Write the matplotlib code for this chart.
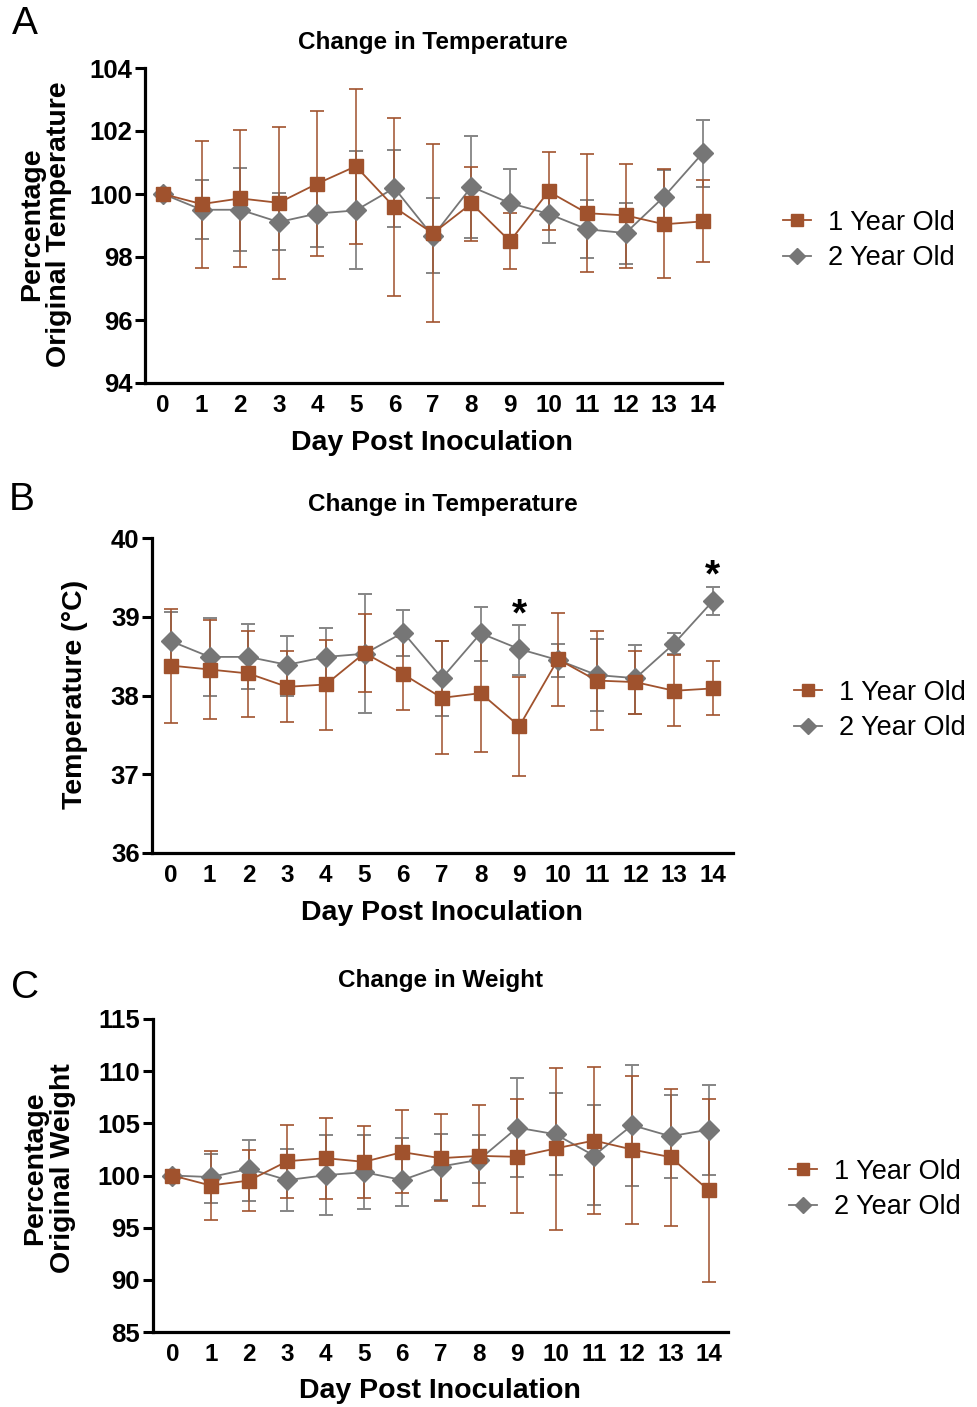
import matplotlib
matplotlib.use('Agg')
import matplotlib.pyplot as plt

plt.rcParams['font.family'] = ['Liberation Sans', 'DejaVu Sans']

# days on the x axis
days = list(range(15))
day_labels = [str(d) for d in days]

# --- panel A: percentage of original temperature ---
a_old1 = [100.0, 99.68, 99.86, 99.72, 100.33, 100.88, 99.58, 98.75, 99.70, 98.50, 100.08, 99.39, 99.32, 99.04, 99.13]
a_old1_hi = [100.05, 101.67, 102.03, 102.14, 102.63, 103.34, 102.42, 101.58, 100.85, 99.39, 101.33, 101.27, 100.95, 100.78, 100.44]
a_old1_lo = [99.95, 97.64, 97.69, 97.30, 98.02, 98.42, 96.75, 95.94, 98.50, 97.61, 98.86, 97.52, 97.66, 97.32, 97.84]
a_old2 = [100.0, 99.50, 99.50, 99.11, 99.38, 99.48, 100.19, 98.66, 100.23, 99.71, 99.37, 98.88, 98.76, 99.92, 101.30]
a_old2_hi = [100.18, 100.43, 100.83, 100.02, 100.35, 101.38, 101.40, 99.87, 101.84, 100.78, 100.27, 99.80, 99.72, 100.77, 102.36]
a_old2_lo = [99.85, 98.58, 98.20, 98.21, 98.33, 97.61, 98.96, 97.50, 98.61, 98.63, 98.44, 97.97, 97.79, 99.07, 100.23]

# --- panel B: temperature in C ---
b_old1 = [38.38, 38.33, 38.28, 38.11, 38.14, 38.54, 38.27, 37.97, 38.03, 37.61, 38.46, 38.19, 38.17, 38.06, 38.09]
b_old1_hi = [39.10, 38.96, 38.82, 38.57, 38.71, 39.04, 38.74, 38.69, 38.77, 38.24, 39.05, 38.82, 38.56, 38.52, 38.44]
b_old1_lo = [37.65, 37.70, 37.73, 37.66, 37.56, 38.05, 37.81, 37.26, 37.28, 36.98, 37.87, 37.56, 37.76, 37.61, 37.75]
b_old2 = [38.69, 38.49, 38.49, 38.39, 38.49, 38.53, 38.80, 38.22, 38.79, 38.59, 38.45, 38.26, 38.22, 38.66, 39.20]
b_old2_hi = [39.06, 38.99, 38.91, 38.76, 38.86, 39.29, 39.09, 38.69, 39.12, 38.89, 38.65, 38.72, 38.64, 38.80, 39.38]
b_old2_lo = [38.31, 38.00, 38.08, 38.00, 38.11, 37.78, 38.50, 37.74, 38.44, 38.26, 38.24, 37.80, 37.77, 38.53, 39.02]
star_days = [9, 14]

# --- panel C: percentage of original weight ---
c_old1 = [100.0, 99.04, 99.52, 101.37, 101.66, 101.31, 102.24, 101.66, 101.88, 101.79, 102.59, 103.35, 102.49, 101.76, 98.57]
c_old1_hi = [100.2, 102.36, 102.42, 104.88, 105.55, 104.79, 106.25, 105.93, 106.76, 107.33, 110.33, 110.39, 109.53, 108.29, 107.36]
c_old1_lo = [99.8, 95.77, 96.56, 97.80, 97.77, 97.80, 98.34, 97.51, 97.04, 96.37, 94.81, 96.34, 95.38, 95.19, 89.84]
c_old2 = [100.0, 99.85, 100.64, 99.56, 100.03, 100.32, 99.56, 100.86, 101.50, 104.59, 103.95, 101.91, 104.82, 103.76, 104.40]
c_old2_hi = [100.5, 102.05, 103.44, 102.55, 103.89, 103.86, 103.60, 104.00, 103.92, 109.31, 107.91, 106.76, 110.61, 107.75, 108.70]
c_old2_lo = [99.5, 97.39, 97.51, 96.63, 96.17, 96.79, 97.04, 97.68, 99.24, 99.81, 100.06, 97.13, 98.98, 99.78, 100.06]

BROWN = '#A0522D'
GRAY = '#767676'
W, H = 977, 1407

fig = plt.figure(figsize=(W / 100, H / 100), dpi=100)


def px_rect(left, top, right, bottom):
    # converts pixel box to figure fractions
    return [left / W, 1 - bottom / H, (right - left) / W, (bottom - top) / H]


def draw_panel(rect, xlim, ylim, yticks, s1, s1hi, s1lo, s2, s2hi, s2lo):
    ax = fig.add_axes(rect)
    err1 = [[m - l for m, l in zip(s1, s1lo)], [h - m for m, h in zip(s1, s1hi)]]
    err2 = [[m - l for m, l in zip(s2, s2lo)], [h - m for m, h in zip(s2, s2hi)]]
    # error bars first, then the lines and markers on top
    ax.errorbar(days, s2, yerr=err2, fmt='none', ecolor='#858585', elinewidth=1.3,
                capsize=4.8, capthick=1.4, zorder=2)
    ax.errorbar(days, s1, yerr=err1, fmt='none', ecolor=BROWN, elinewidth=1.3,
                capsize=4.8, capthick=1.4, alpha=0.85, zorder=2)
    h2, = ax.plot(days, s2, color=GRAY, lw=1.3, marker='D', ms=10, mec=GRAY, mfc=GRAY, zorder=3)
    h1, = ax.plot(days, s1, color=BROWN, lw=1.3, marker='s', ms=10, mec=BROWN, mfc=BROWN, zorder=4)
    ax.set_xlim(*xlim)
    ax.set_ylim(*ylim)
    ax.set_xticks(days)
    ax.set_xticklabels(day_labels, fontsize=17.5, fontweight='bold')
    ax.set_yticks(yticks)
    ax.set_yticklabels([str(t) for t in yticks], fontsize=18.5, fontweight='bold')
    ax.tick_params(axis='x', length=0, pad=8)
    ax.tick_params(axis='y', length=7, width=2.2, pad=2)
    for side in ['top', 'right']:
        ax.spines[side].set_visible(False)
    for side in ['left', 'bottom']:
        ax.spines[side].set_linewidth(2.3)
    ax.patch.set_alpha(0)
    return ax, h1, h2


def add_legend(ax, h1, h2, x, y):
    ax.legend([h1, h2], ['1 Year Old', '2 Year Old'], loc='center left',
              bbox_to_anchor=(x / W, 1 - y / H), bbox_transform=fig.transFigure,
              frameon=False, fontsize=19.5, handlelength=1.05, handletextpad=0.6,
              labelspacing=0.35, borderpad=0, borderaxespad=0, markerscale=0.85)


# panel A
axA, h1, h2 = draw_panel(px_rect(145, 68, 722, 383), (-0.47, 14.5), (94, 104), list(range(94, 105, 2)),
                         a_old1, a_old1_hi, a_old1_lo, a_old2, a_old2_hi, a_old2_lo)
add_legend(axA, h1, h2, 783, 240.5)
fig.text(25 / W, 1 - 24 / H, 'A', fontsize=28, ha='center', va='center')
fig.text(433 / W, 1 - 42 / H, 'Change in Temperature', fontsize=17.5, fontweight='bold', ha='center', va='center')
fig.text(432 / W, 1 - 443 / H, 'Day Post Inoculation', fontsize=20.5, fontweight='bold', ha='center', va='center')
fig.text(46 / W, 1 - 224 / H, 'Percentage\nOriginal Temperature', fontsize=20.5, fontweight='bold',
         ha='center', va='center', rotation=90, linespacing=1.05)

# panel B
axB, h1, h2 = draw_panel(px_rect(152, 538, 733, 853), (-0.49, 14.52), (36, 40), [36, 37, 38, 39, 40],
                         b_old1, b_old1_hi, b_old1_lo, b_old2, b_old2_hi, b_old2_lo)
add_legend(axB, h1, h2, 794, 710.5)
for d in star_days:
    axB.text(d, b_old2_hi[d], '*', fontsize=28, fontweight='bold', ha='center', va='baseline')
fig.text(22 / W, 1 - 500 / H, 'B', fontsize=28, ha='center', va='center')
fig.text(443 / W, 1 - 505 / H, 'Change in Temperature', fontsize=17.5, fontweight='bold', ha='center', va='center')
fig.text(442 / W, 1 - 913 / H, 'Day Post Inoculation', fontsize=20.5, fontweight='bold', ha='center', va='center')
fig.text(75 / W, 1 - 694 / H, 'Temperature (°C)', fontsize=20.5, fontweight='bold',
         ha='center', va='center', rotation=90)

# panel C
axC, h1, h2 = draw_panel(px_rect(152.5, 1019, 728, 1332), (-0.52, 14.5), (85, 115), list(range(85, 116, 5)),
                         c_old1, c_old1_hi, c_old1_lo, c_old2, c_old2_hi, c_old2_lo)
add_legend(axC, h1, h2, 789, 1189.5)
fig.text(25 / W, 1 - 988 / H, 'C', fontsize=28, ha='center', va='center')
fig.text(441 / W, 1 - 980 / H, 'Change in Weight', fontsize=17.5, fontweight='bold', ha='center', va='center')
fig.text(440 / W, 1 - 1391 / H, 'Day Post Inoculation', fontsize=20.5, fontweight='bold', ha='center', va='center')
fig.text(49 / W, 1 - 1168 / H, 'Percentage\nOriginal Weight', fontsize=20.5, fontweight='bold',
         ha='center', va='center', rotation=90, linespacing=1.05)

fig.savefig('out.png', dpi=100)
